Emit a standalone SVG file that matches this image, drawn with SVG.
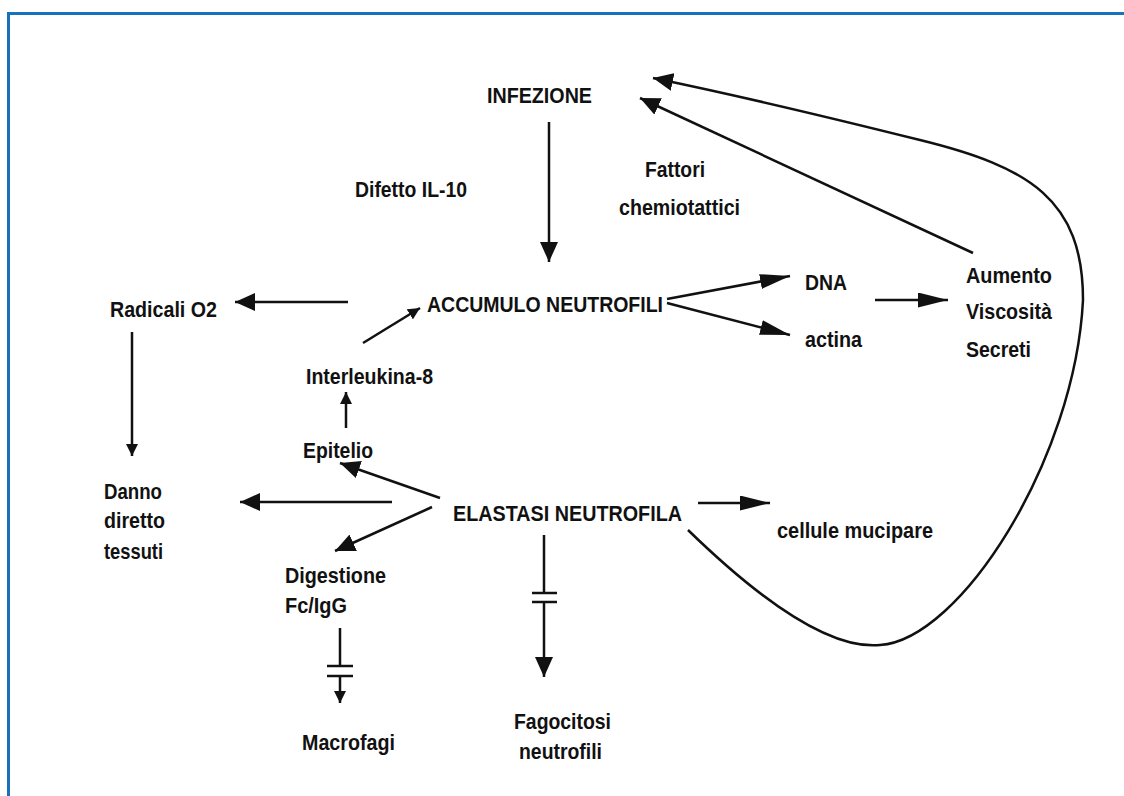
<svg xmlns="http://www.w3.org/2000/svg" width="1124" height="796" viewBox="0 0 1124 796">
<defs>
<style>
.t{font-family:"Liberation Sans",Arial,sans-serif;font-weight:bold;font-size:22px;fill:#111}
.c{stroke:#111;stroke-width:2.5;fill:none;stroke-linecap:butt}
.bar{stroke:#111;stroke-width:2.5}
.frame{stroke:#1872bb;stroke-width:3;fill:none}
</style>
<marker id="ah" viewBox="0 0 20 18" refX="20" refY="9" markerWidth="20" markerHeight="18" markerUnits="userSpaceOnUse" orient="auto"><path d="M0,0 L20,9 L0,18 z" fill="#111"/></marker>
<marker id="al" viewBox="0 0 30 15" refX="30" refY="7.5" markerWidth="30" markerHeight="15" markerUnits="userSpaceOnUse" orient="auto"><path d="M0,0 L30,7.5 L0,15 z" fill="#111"/></marker>
<marker id="as" viewBox="0 0 12 12" refX="12" refY="6" markerWidth="12" markerHeight="12" markerUnits="userSpaceOnUse" orient="auto"><path d="M0,0 L12,6 L0,12 z" fill="#111"/></marker>
</defs>
<rect width="1124" height="796" fill="#fff"/>
<path class="frame" d="M8.5,796 V13.5 H1124"/>

<g id="connectors">
<line class="c" x1="549" y1="122" x2="549" y2="262" marker-end="url(#ah)"/>
<line class="c" x1="973" y1="253" x2="640" y2="98" marker-end="url(#ah)"/>
<path class="c" d="M688,530 C760,600 830,650 880,645 C960,640 1075,460 1083,300 C1083,200 1030,167 920,140 C820,115 740,96 653,78" marker-end="url(#ah)"/>
<line class="c" x1="667" y1="299" x2="790" y2="276" marker-end="url(#al)"/>
<line class="c" x1="667" y1="303" x2="790" y2="335" marker-end="url(#al)"/>
<line class="c" x1="875" y1="300" x2="948" y2="300" marker-end="url(#al)"/>
<line class="c" x1="348" y1="302" x2="235" y2="302" marker-end="url(#ah)"/>
<line class="c" x1="363" y1="343" x2="420" y2="308" marker-end="url(#as)"/>
<line class="c" x1="346" y1="428" x2="346" y2="392" marker-end="url(#as)"/>
<line class="c" x1="440" y1="498" x2="340" y2="463" marker-end="url(#ah)"/>
<line class="c" x1="392" y1="502" x2="240" y2="502" marker-end="url(#ah)"/>
<line class="c" x1="132" y1="332" x2="132" y2="456" marker-end="url(#as)"/>
<line class="c" x1="432" y1="507" x2="335" y2="551" marker-end="url(#ah)"/>
<line class="c" x1="698" y1="503" x2="770" y2="503" marker-end="url(#al)"/>
<line class="c" x1="544" y1="535" x2="544" y2="593"/>
<line class="bar" x1="532" y1="593" x2="557" y2="593"/>
<line class="bar" x1="532" y1="602" x2="557" y2="602"/>
<line class="c" x1="544" y1="602" x2="544" y2="677" marker-end="url(#ah)"/>
<line class="c" x1="340" y1="628" x2="340" y2="666"/>
<line class="bar" x1="327" y1="666" x2="353" y2="666"/>
<line class="bar" x1="327" y1="676" x2="353" y2="676"/>
<line class="c" x1="340" y1="676" x2="340" y2="703" marker-end="url(#as)"/>
</g>

<g id="n-infezione"><text class="t" x="487" y="103" textLength="105" lengthAdjust="spacingAndGlyphs">INFEZIONE</text></g>
<g id="n-difetto"><text class="t" x="355" y="197" textLength="112" lengthAdjust="spacingAndGlyphs">Difetto IL-10</text></g>
<g id="n-fattori"><text class="t" x="645" y="177" textLength="60" lengthAdjust="spacingAndGlyphs">Fattori</text><text class="t" x="619" y="215" textLength="121" lengthAdjust="spacingAndGlyphs">chemiotattici</text></g>
<g id="n-accumulo"><text class="t" x="427" y="312" textLength="236" lengthAdjust="spacingAndGlyphs">ACCUMULO NEUTROFILI</text></g>
<g id="n-dna"><text class="t" x="805" y="290" textLength="42" lengthAdjust="spacingAndGlyphs">DNA</text></g>
<g id="n-actina"><text class="t" x="805" y="347" textLength="57" lengthAdjust="spacingAndGlyphs">actina</text></g>
<g id="n-aumento"><text class="t" x="966" y="283" textLength="86" lengthAdjust="spacingAndGlyphs">Aumento</text><text class="t" x="966" y="319" textLength="86" lengthAdjust="spacingAndGlyphs">Viscosità</text><text class="t" x="966" y="357" textLength="65" lengthAdjust="spacingAndGlyphs">Secreti</text></g>
<g id="n-radicali"><text class="t" x="110" y="317" textLength="107" lengthAdjust="spacingAndGlyphs">Radicali O2</text></g>
<g id="n-interleukina"><text class="t" x="306" y="384" textLength="127" lengthAdjust="spacingAndGlyphs">Interleukina-8</text></g>
<g id="n-epitelio"><text class="t" x="303" y="458" textLength="70" lengthAdjust="spacingAndGlyphs">Epitelio</text></g>
<g id="n-danno"><text class="t" x="104" y="499" textLength="58" lengthAdjust="spacingAndGlyphs">Danno</text><text class="t" x="104" y="528" textLength="61" lengthAdjust="spacingAndGlyphs">diretto</text><text class="t" x="104" y="559" textLength="59" lengthAdjust="spacingAndGlyphs">tessuti</text></g>
<g id="n-elastasi"><text class="t" x="453" y="521" textLength="229" lengthAdjust="spacingAndGlyphs">ELASTASI NEUTROFILA</text></g>
<g id="n-cellule"><text class="t" x="777" y="538" textLength="156" lengthAdjust="spacingAndGlyphs">cellule mucipare</text></g>
<g id="n-digestione"><text class="t" x="285" y="583" textLength="101" lengthAdjust="spacingAndGlyphs">Digestione</text><text class="t" x="285" y="613" textLength="62" lengthAdjust="spacingAndGlyphs">Fc/IgG</text></g>
<g id="n-macrofagi"><text class="t" x="302" y="750" textLength="93" lengthAdjust="spacingAndGlyphs">Macrofagi</text></g>
<g id="n-fagocitosi"><text class="t" x="514" y="729" textLength="97" lengthAdjust="spacingAndGlyphs">Fagocitosi</text><text class="t" x="519" y="759" textLength="83" lengthAdjust="spacingAndGlyphs">neutrofili</text></g>
</svg>
